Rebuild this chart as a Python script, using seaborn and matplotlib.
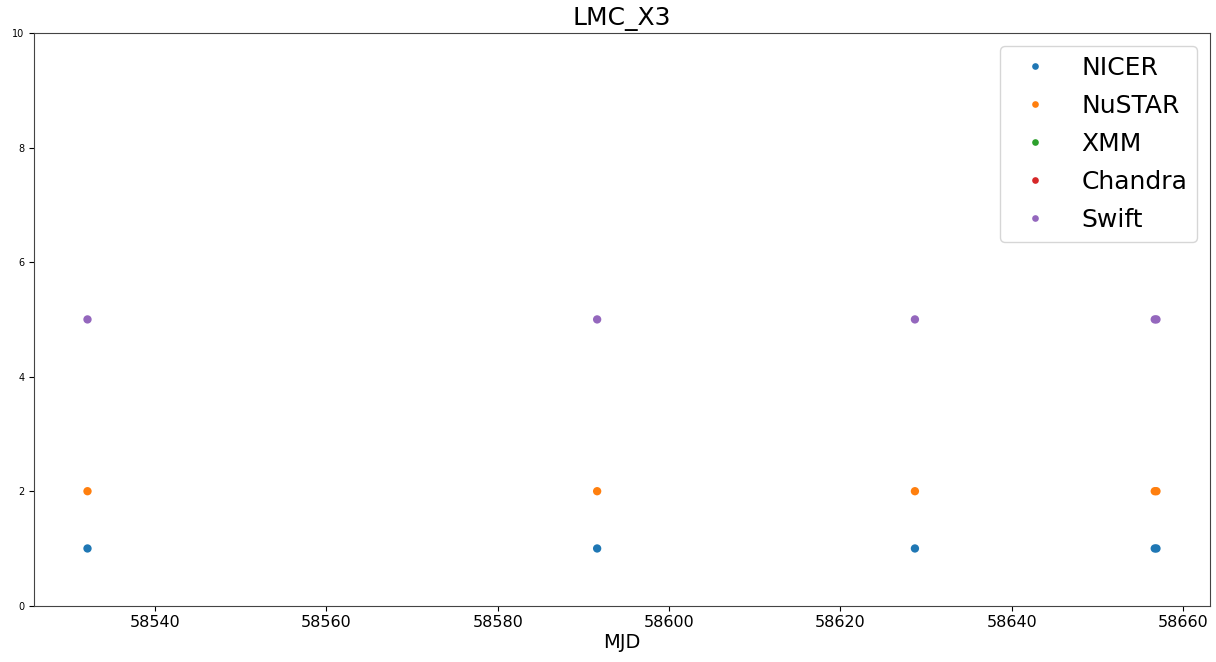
import matplotlib
matplotlib.use("Agg")
import matplotlib.pyplot as plt
import seaborn as sns
import pandas as pd

instruments = ["NICER", "NuSTAR", "XMM", "Chandra", "Swift"]
instrument_level = {"NICER": 1, "NuSTAR": 2, "XMM": 3, "Chandra": 4, "Swift": 5}
mjd_nicer = [58532.1, 58591.6, 58628.7, 58656.7, 58656.9]
mjd_nustar = [58532.1, 58591.6, 58628.7, 58656.7, 58656.9]
mjd_swift = [58532.1, 58591.6, 58628.7, 58656.7, 58656.9]

rows = []
for name, mjds in [("NICER", mjd_nicer), ("NuSTAR", mjd_nustar), ("Swift", mjd_swift)]:
    for m in mjds:
        rows.append({"MJD": m, "level": instrument_level[name], "instrument": name})
df = pd.DataFrame(rows)

fig = plt.figure(figsize=(12.16, 6.62), dpi=100)
ax = fig.add_axes([0.028, 0.085, 0.967, 0.865])
palette = dict(zip(instruments, sns.color_palette("tab10", 5)))
sns.scatterplot(data=df, x="MJD", y="level", hue="instrument", hue_order=instruments,
                palette=palette, s=36, linewidth=0, ax=ax)
ax.set_ylim(0, 10)
ax.set_ylabel("")
ax.set_xlabel("MJD", fontsize=14, labelpad=2)
ax.set_title("LMC_X3", fontsize=18)
ax.tick_params(axis="x", labelsize=11.5)
ax.tick_params(axis="y", labelsize=7)
for sp in ax.spines.values():
    sp.set_color("#444444")
leg = ax.legend(loc="upper right", fontsize=18, markerscale=0.8, borderpad=0.4,
                handletextpad=0.85, labelspacing=0.56)
fig.savefig("out.png", dpi=100)
